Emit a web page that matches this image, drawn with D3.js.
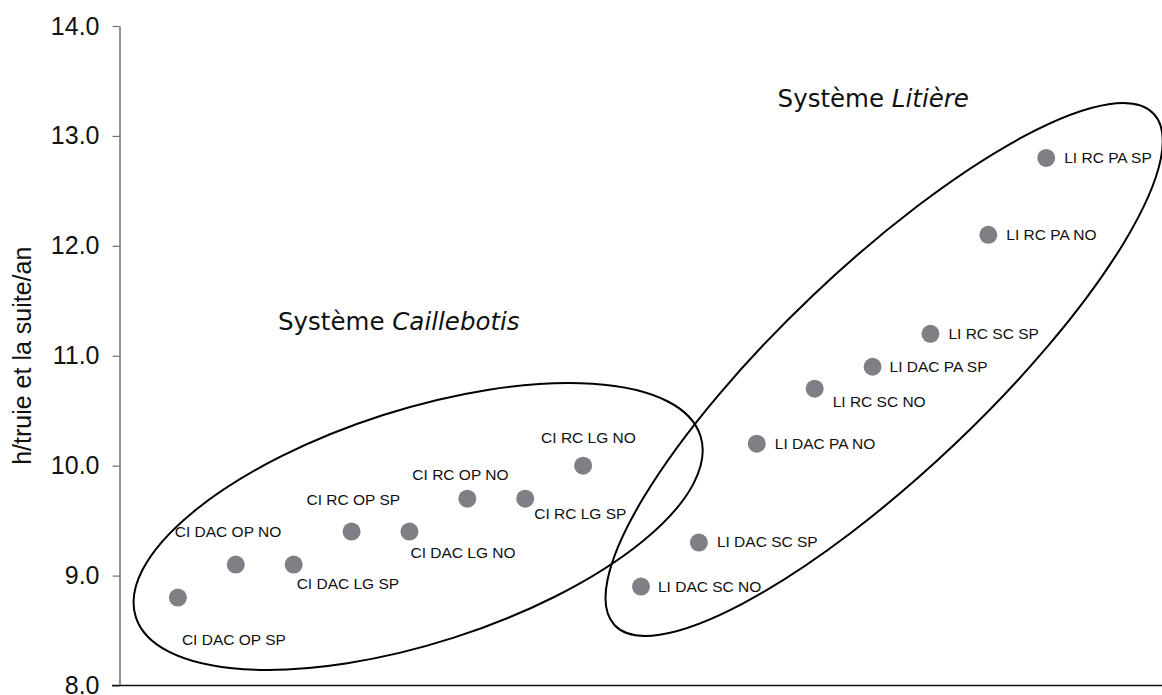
<!DOCTYPE html>
<html>
<head>
<meta charset="utf-8">
<script src="https://cdn.jsdelivr.net/npm/d3@7"></script>
<style>
  body { margin: 0; background: #fff; }
  svg { display: block; }
</style>
</head>
<body>
<div class="chart"><svg width="1162" height="695"></svg></div>
<script>
// data
var categories = [
  "CI DAC OP SP", "CI DAC OP NO", "CI DAC LG SP", "CI RC OP SP",
  "CI DAC LG NO", "CI RC OP NO", "CI RC LG SP", "CI RC LG NO",
  "LI DAC SC NO", "LI DAC SC SP", "LI DAC PA NO", "LI RC SC NO",
  "LI DAC PA SP", "LI RC SC SP", "LI RC PA NO", "LI RC PA SP"
];
var values = [8.8, 9.1, 9.1, 9.4, 9.4, 9.7, 9.7, 10.0,
              8.9, 9.3, 10.2, 10.7, 10.9, 11.2, 12.1, 12.8];
var yTicks = [8, 9, 10, 11, 12, 13, 14];
var yTitle = "h/truie et la suite/an";

// label placement (px offsets from the marker)
var labelOffsets = [
  [4, 47], [-61, -28], [3, 24], [-45, -27],
  [1, 26], [-55, -19], [9, 20], [-42, -23],
  [17, 5], [18, 4], [18, 5], [18, 18],
  [17, 5], [18, 5], [18, 5], [18, 5]
];

(function () {
    var svg = d3.select(".chart").select("svg");
    var x = d3.scaleLinear().domain([0, 18]).range([120, 1162]);
    var y = d3.scaleLinear().domain([8, 14]).range([685.5, 26]);

    /*
        Axes
    */
    var yAxis = svg.append("g")
        .attr("transform", "translate(119.5,0)")
        .call(d3.axisLeft(y).tickValues(yTicks).tickFormat(d3.format(".1f"))
            .tickSize(7).tickPadding(13).tickSizeOuter(0));
    yAxis.select(".domain").attr("stroke", "#6e6e6e").attr("stroke-width", 1.5);
    yAxis.selectAll(".tick line").attr("stroke", "#6e6e6e").attr("stroke-width", 1.2);
    yAxis.selectAll("text")
        .attr("font-family", "'Liberation Sans', Arial, sans-serif")
        .attr("font-size", 25)
        .attr("fill", "#111");

    svg.append("line")
        .attr("x1", 112).attr("x2", 1162)
        .attr("y1", y(8)).attr("y2", y(8))
        .attr("stroke", "#111").attr("stroke-width", 1.6);

    svg.append("text")
        .attr("transform", "translate(31," + (y(11)) + ") rotate(-90)")
        .attr("text-anchor", "middle")
        .attr("font-family", "'Liberation Sans', Arial, sans-serif")
        .attr("font-size", 25)
        .attr("fill", "#111")
        .text(yTitle);

    /*
        Group ellipses
    */
    var groups = [
        { cx: 5.15, cy: 9.447, rx: 296.5, ry: 116.8, angle: -17.8 },
        { cx: 13.2, cy: 10.875, rx: 371.5, ry: 102.8, angle: -43.5 }
    ];
    svg.selectAll("ellipse.group").data(groups).enter().append("ellipse")
        .attr("class", "group")
        .attr("transform", function (d) {
            return "translate(" + x(d.cx) + "," + y(d.cy) + ") rotate(" + d.angle + ")";
        })
        .attr("rx", function (d) { return d.rx; })
        .attr("ry", function (d) { return d.ry; })
        .attr("fill", "none")
        .attr("stroke", "#000")
        .attr("stroke-width", 2);

    /*
        Points
    */
    var pts = svg.selectAll("g.pt").data(values).enter().append("g")
        .attr("class", "pt");
    pts.append("circle")
        .attr("cx", function (d, i) { return x(i + 1); })
        .attr("cy", function (d) { return y(d); })
        .attr("r", 9)
        .attr("fill", "#7f7f85");
    pts.append("text")
        .attr("x", function (d, i) { return x(i + 1) + labelOffsets[i][0]; })
        .attr("y", function (d, i) { return y(d) + labelOffsets[i][1]; })
        .attr("font-family", "'Liberation Sans', Arial, sans-serif")
        .attr("font-size", 15.5)
        .attr("fill", "#111")
        .text(function (d, i) { return categories[i]; });

    /*
        Group titles
    */
    var titles = [
        { word: "Caillebotis", cx: 2.73, cy: 11.235 },
        { word: "Litière", cx: 11.36, cy: 13.267 }
    ];
    var t = svg.selectAll("text.title").data(titles).enter().append("text")
        .attr("class", "title")
        .attr("x", function (d) { return x(d.cx); })
        .attr("y", function (d) { return y(d.cy); })
        .attr("font-family", "'DejaVu Sans', Verdana, sans-serif")
        .attr("font-size", 24.5)
        .attr("fill", "#111");
    t.append("tspan").text("Système ");
    t.append("tspan").attr("font-style", "italic").text(function (d) { return d.word; });
})();
</script>
</body>
</html>
